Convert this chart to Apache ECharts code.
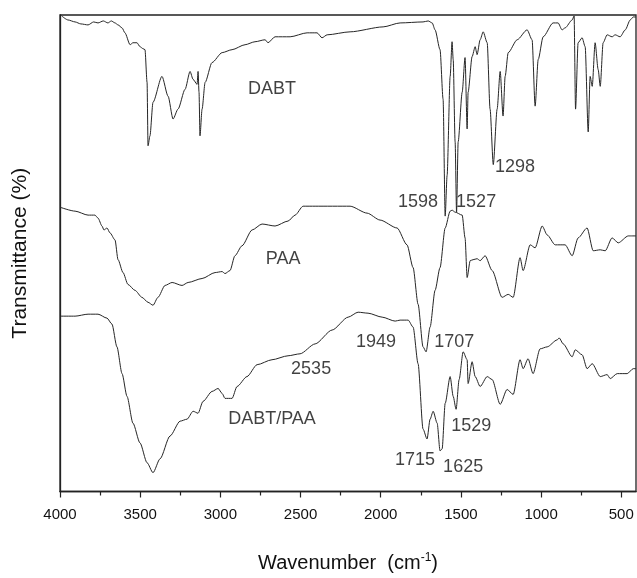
<!DOCTYPE html>
<html>
<head>
<meta charset="utf-8">
<script src="https://cdn.jsdelivr.net/npm/echarts@6/dist/echarts.min.js"></script>
<style>
html,body{margin:0;padding:0;background:#fff;}
#chart{width:637px;height:578px;}
</style>
</head>
<body>
<div id="chart"></div>
<script>
// Wavenumber (cm-1) / transmittance (arbitrary offset units) pairs
const dabt = [
[3989,480],[3950,476],[3906,474],[3870,472],[3825,471],[3790,474],[3763,473],[3730,475],[3701,473],[3680,475],
[3657,473],[3638,471],[3613,468],[3595,463],[3563,451],[3545,453],[3520,453],[3501,449],[3482,447],[3470,446],
[3457,413],[3451,349],[3439,359],[3420,393],[3364,419],[3326,399],[3295,376],[3264,386],[3220,406],[3189,424],
[3170,416],[3145,411],[3139,424],[3133,403],[3127,359],[3114,386],[3095,413],[3052,433],[2989,443],[2927,446],
[2846,451],[2784,454],[2721,456],[2703,453],[2659,459],[2565,459],[2459,463],[2397,463],[2366,458],[2334,461],
[2191,464],[1985,469],[1879,473],[1736,474],[1704,475],[1679,473],[1661,466],[1630,446],[1611,396],[1598,278],
[1586,319],[1567,419],[1555,454],[1548,436],[1536,353],[1527,282],[1517,353],[1492,403],[1474,438],[1461,366],
[1455,403],[1430,439],[1411,449],[1399,441],[1380,456],[1361,464],[1336,453],[1318,386],[1298,330],[1274,386],
[1255,424],[1237,379],[1224,419],[1205,443],[1149,456],[1087,466],[1056,456],[1037,389],[1018,436],[987,459],
[925,473],[894,473],[869,466],[850,468],[806,476],[794,480],[785,386],[769,453],[744,458],[725,449],
[706,363],[694,419],[681,409],[663,453],[644,426],[631,409],[613,453],[588,461],[557,459],[538,461],
[507,459],[475,466],[444,476],[425,479],[408,479]
];
const paa = [
[4000,287],[3906,283],[3825,279],[3782,279],[3763,276],[3738,268],[3726,264],[3707,266],[3688,261],[3657,254],
[3638,234],[3607,221],[3576,209],[3532,203],[3489,196],[3451,191],[3420,188],[3389,196],[3345,208],[3301,211],
[3239,208],[3201,211],[3114,215],[3033,221],[2989,222],[2971,220],[2940,223],[2909,238],[2865,248],[2802,264],
[2740,270],[2659,268],[2578,273],[2534,279],[2484,288],[2409,288],[2191,288],[2085,281],[2004,274],[1898,266],
[1836,249],[1798,226],[1767,189],[1736,146],[1717,141],[1692,166],[1661,203],[1630,226],[1598,266],[1567,283],
[1555,284],[1536,282],[1492,279],[1474,256],[1461,216],[1442,233],[1424,234],[1399,235],[1380,233],[1349,238],
[1305,223],[1243,196],[1205,199],[1174,196],[1131,236],[1112,223],[1068,249],[1037,246],[993,268],[962,259],
[912,249],[850,249],[806,238],[769,256],[713,266],[675,243],[631,244],[600,243],[557,256],[519,251],
[456,258],[408,258]
];
const blend = [
[4000,177],[3906,177],[3825,179],[3763,179],[3707,175],[3676,169],[3645,146],[3613,119],[3582,96],[3545,69],
[3501,49],[3457,29],[3420,19],[3376,33],[3314,56],[3251,71],[3208,73],[3170,81],[3139,79],[3108,91],
[3052,101],[3014,104],[2989,99],[2971,94],[2927,94],[2896,106],[2834,116],[2771,128],[2678,133],[2578,137],
[2503,139],[2409,149],[2303,163],[2203,176],[2141,181],[2079,180],[1991,176],[1910,172],[1879,173],[1829,173],
[1798,166],[1767,129],[1736,63],[1711,53],[1692,73],[1673,81],[1648,69],[1630,41],[1617,43],[1598,89],
[1567,116],[1548,96],[1530,83],[1511,113],[1486,141],[1461,133],[1455,109],[1430,131],[1411,116],[1380,106],
[1336,116],[1305,113],[1255,88],[1212,103],[1174,98],[1131,133],[1112,124],[1081,134],[1050,119],[1006,144],
[962,146],[900,153],[887,155],[862,149],[806,136],[787,143],[744,138],[713,124],[681,129],[631,116],
[588,118],[569,114],[525,119],[463,119],[425,124],[408,124]
];
// annotation texts placed at data coordinates [wavenumber, value]
const annotations = [
['DABT',2678,406],['1298',1162,328],['1598',1767,292],['1527',1405,292],
['PAA',2609,235],['1949',2029,151],['1707',1542,151],['2535',2434,124],
['DABT/PAA',2678,73],['1529',1436,66],['1715',1786,32],['1625',1486,25]
];
const majorTicks = [4000,3500,3000,2500,2000,1500,1000,500];
const minorTicks = [3750,3250,2750,2250,1750,1250,750];
const xMin = 408, xMax = 4000, yMin = 0, yMax = 481;

const FONT = 'Liberation Sans, Arial, sans-serif';
const ink = '#222';
const txt = '#111';
const chart = echarts.init(document.getElementById('chart'), null, {renderer:'canvas'});

function lineSeries(data){
  return {
    type:'line', data:data, xAxisIndex:0, yAxisIndex:0,
    showSymbol:false, symbol:'none', smooth:0.25, smoothMonotone:'x',
    lineStyle:{color:'#262626', width:1}, silent:true, animation:false
  };
}

chart.setOption({
  animation:false,
  backgroundColor:'#fff',
  grid:{left:60, right:1, top:15, bottom:82, show:true, borderColor:ink, borderWidth:1.3, backgroundColor:'transparent'},
  xAxis:[{
    type:'value', inverse:true, min:xMin, max:xMax,
    axisLine:{show:true, lineStyle:{color:ink, width:1.3}},
    axisTick:{show:true, inside:false, length:6, customValues:majorTicks, lineStyle:{color:ink, width:1.2}},
    axisLabel:{show:true, customValues:majorTicks, formatter:v=>String(v), margin:16, fontSize:15, color:txt, fontFamily:FONT},
    splitLine:{show:false},
    name:'{a|Wavenumber  (cm}{s|-1}{a|)}', nameLocation:'middle', nameGap:60,
    nameTextStyle:{rich:{
      a:{fontSize:20, fontFamily:FONT, color:txt},
      s:{fontSize:12, fontFamily:FONT, color:txt, verticalAlign:'bottom', padding:[0,0,11,0]}
    }}
  },{
    type:'value', inverse:true, min:xMin, max:xMax, position:'bottom',
    axisLine:{show:false},
    axisTick:{show:true, inside:false, length:4, customValues:minorTicks, lineStyle:{color:ink, width:1.2}},
    axisLabel:{show:false}, splitLine:{show:false}
  }],
  yAxis:{
    type:'value', min:yMin, max:yMax,
    axisLine:{show:true, lineStyle:{color:ink, width:1.3}},
    axisTick:{show:false}, axisLabel:{show:false}, splitLine:{show:false},
    name:'Transmittance (%)', nameLocation:'middle', nameRotate:90, nameGap:29,
    nameTextStyle:{fontSize:21, fontFamily:FONT, color:txt}
  },
  series:[
    lineSeries(dabt), lineSeries(paa), lineSeries(blend),
    {
      type:'scatter', symbolSize:0, silent:true, z:5,
      data:annotations.map(a=>({name:a[0], value:[a[1],a[2]]})),
      label:{show:true, position:'inside', formatter:'{b}', fontSize:18, fontFamily:FONT, color:txt}
    }
  ]
});
</script>
</body>
</html>
